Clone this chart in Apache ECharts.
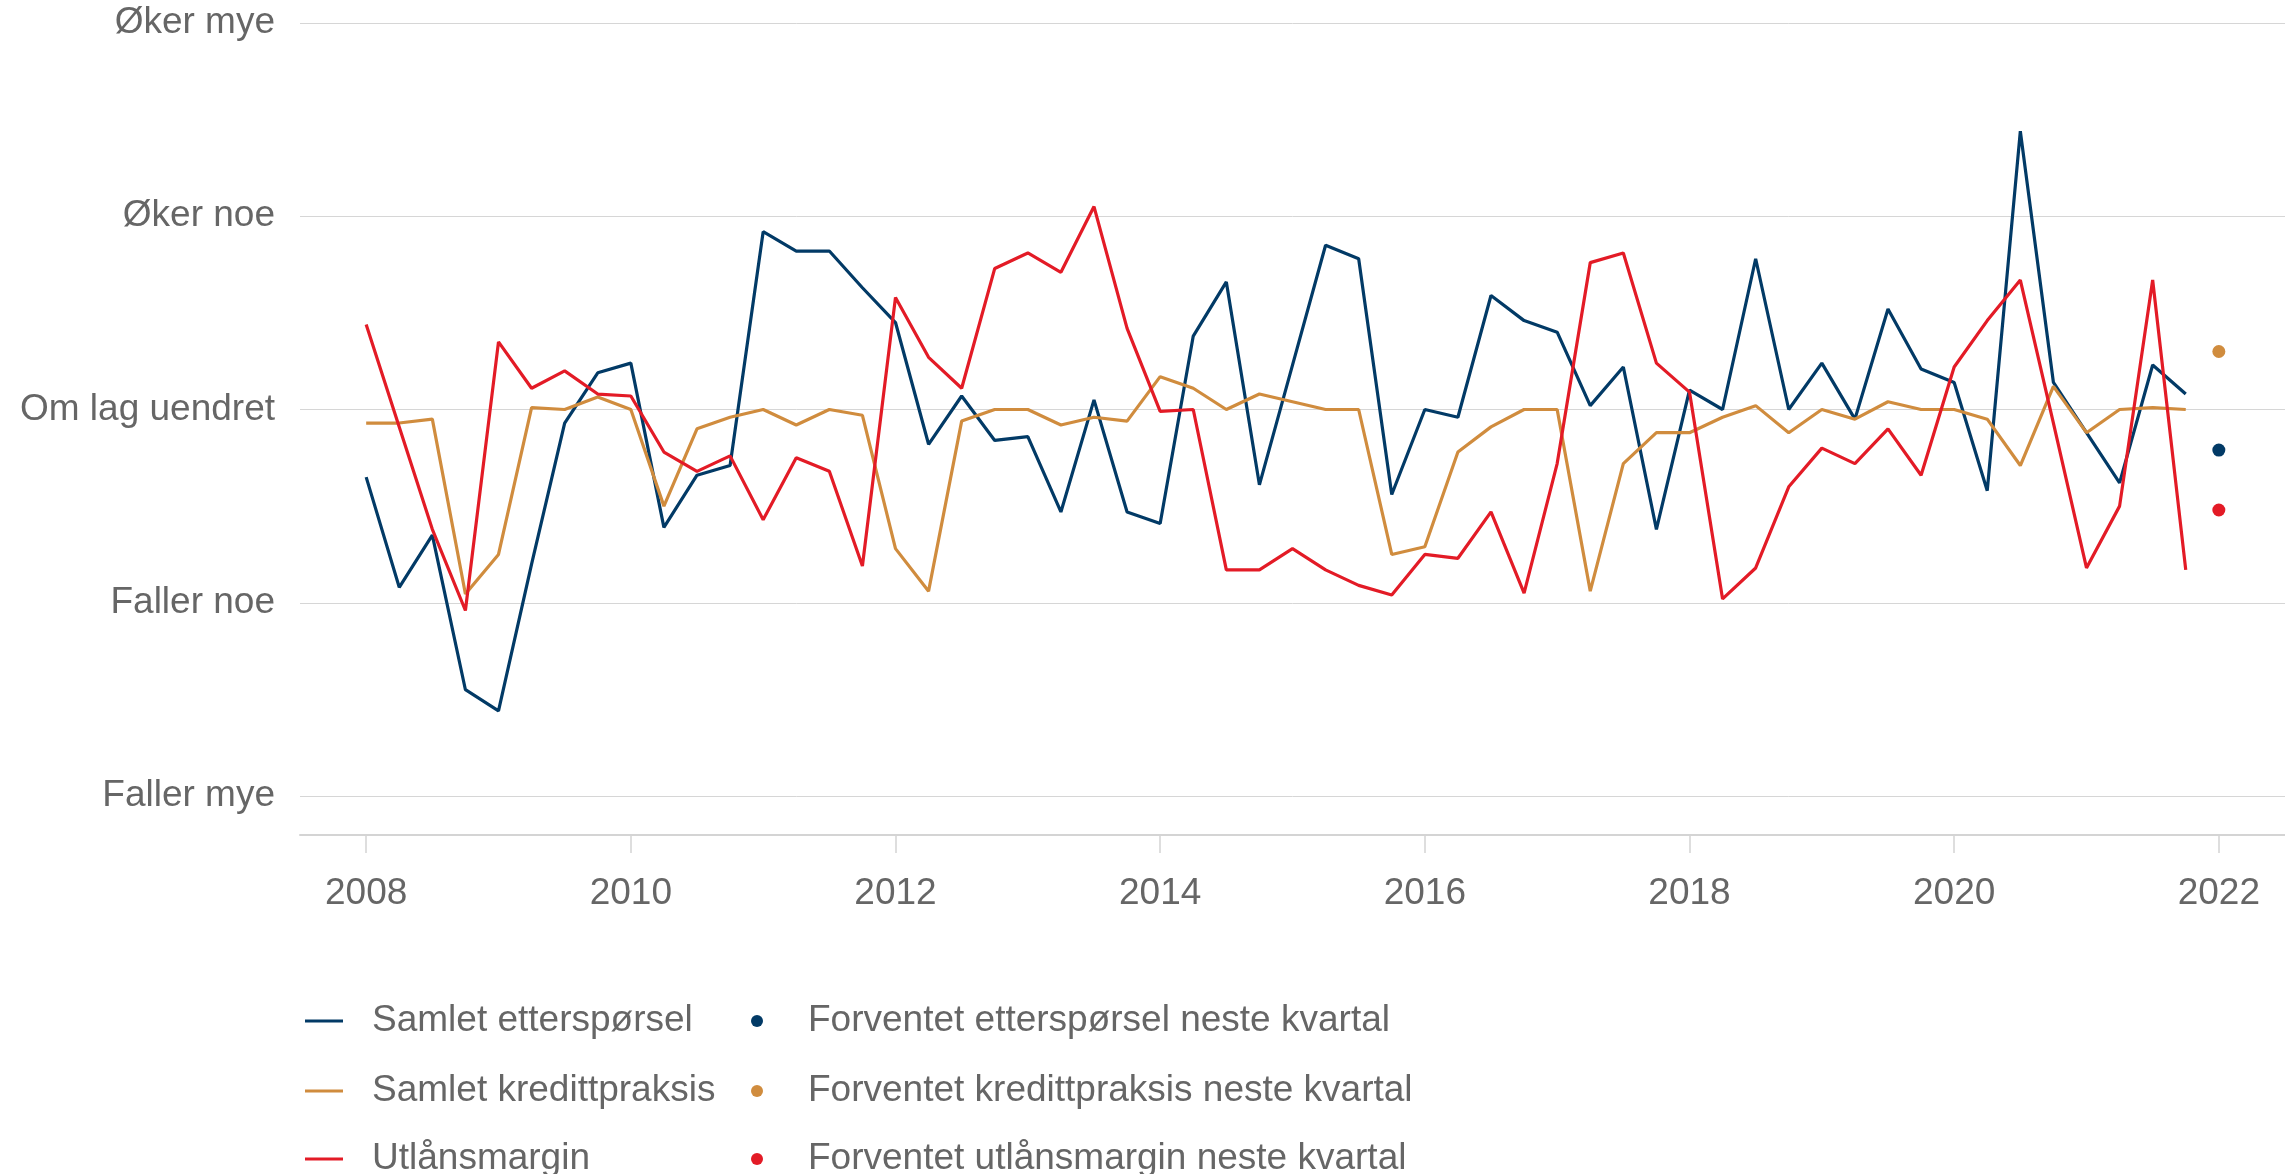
<!DOCTYPE html>
<html>
<head>
<meta charset="utf-8">
<title>Utlånsundersøkelse</title>
<script src="https://cdn.jsdelivr.net/npm/echarts@6/dist/echarts.min.js"></script>
<style>
  html, body { margin: 0; padding: 0; background: #fff; }
  #chart { width: 2285px; height: 1174px; }
</style>
</head>
<body>
<div id="chart"></div>
<script>
// quarterly survey, 2008 K1 - 2021 K4
const firstYear = 2008
const lastYear = 2021
const forecastX = 2022

const yearTicks = [2008, 2010, 2012, 2014, 2016, 2018, 2020, 2022]
const yLabels = { '2': 'Øker mye', '1': 'Øker noe', '0': 'Om lag uendret', '-1': 'Faller noe', '-2': 'Faller mye' }

const lineNames = ['Samlet etterspørsel', 'Samlet kredittpraksis', 'Utlånsmargin']
const dotNames = ['Forventet etterspørsel neste kvartal', 'Forventet kredittpraksis neste kvartal', 'Forventet utlånsmargin neste kvartal']

const etterspoersel = [
  -0.35, -0.92, -0.65, -1.45, -1.56, -0.80, -0.07, 0.19,
  0.24, -0.61, -0.34, -0.29, 0.92, 0.82, 0.82, 0.63,
  0.45, -0.18, 0.07, -0.16, -0.14, -0.53, 0.05, -0.53,
  -0.59, 0.38, 0.66, -0.39, 0.23, 0.85, 0.78, -0.44,
  0.00, -0.04, 0.59, 0.46, 0.40, 0.02, 0.22, -0.62,
  0.10, 0.00, 0.78, 0.00, 0.24, -0.05, 0.52, 0.21,
  0.14, -0.42, 1.44, 0.14, -0.12, -0.38, 0.23, 0.08
]
const kredittpraksis = [
  -0.07, -0.07, -0.05, -0.955, -0.75, 0.01, 0.00, 0.065,
  0.00, -0.50, -0.10, -0.04, 0.00, -0.08, 0.00, -0.03,
  -0.72, -0.94, -0.06, 0.00, 0.00, -0.08, -0.04, -0.06,
  0.17, 0.11, 0.00, 0.08, 0.04, 0.00, 0.00, -0.75,
  -0.71, -0.22, -0.09, 0.00, 0.00, -0.94, -0.28, -0.12,
  -0.12, -0.04, 0.02, -0.12, 0.00, -0.05, 0.04, 0.00,
  0.00, -0.05, -0.29, 0.12, -0.12, 0.00, 0.01, 0.00
]
const utlaansmargin = [
  0.44, -0.09, -0.62, -1.04, 0.35, 0.11, 0.20, 0.08,
  0.07, -0.22, -0.32, -0.24, -0.57, -0.25, -0.32, -0.81,
  0.58, 0.27, 0.11, 0.73, 0.81, 0.71, 1.05, 0.42,
  -0.01, 0.00, -0.83, -0.83, -0.72, -0.83, -0.91, -0.96,
  -0.75, -0.77, -0.53, -0.95, -0.28, 0.76, 0.81, 0.24,
  0.09, -0.98, -0.82, -0.40, -0.20, -0.28, -0.10, -0.34,
  0.22, 0.46, 0.67, -0.07, -0.82, -0.50, 0.67, -0.83
]
// expectations for next quarter, plotted at 2022
const forventet = [-0.21, 0.30, -0.52]

const colors = ['#023a66', '#d08c3e', '#e31b26']
const font = "'Liberation Sans', Arial, sans-serif"

// x positions of the quarters (K1 sits on the year tick)
const quarters = []
for (let y = firstYear; y <= lastYear; y++) {
  for (let q = 0; q < 4; q++) quarters.push(y + q / 4)
}
const pairs = values => values.map((v, i) => [quarters[i], v])

const lineSeries = (name, values, color) => ({
  name,
  type: 'line',
  data: pairs(values),
  showSymbol: false,
  lineStyle: { color, width: 3.2 },
  itemStyle: { color },
  z: 3
})
const dotSeries = (name, value, color) => ({
  name,
  type: 'scatter',
  data: [[forecastX, value]],
  symbolSize: 13,
  itemStyle: { color, opacity: 1 },
  z: 4
})

const legendText = { color: '#666', fontSize: 37, fontFamily: font, lineHeight: 40 }
const rowTops = [996, 1066, 1134]

// one legend per entry so the rows sit exactly where they should
const legends = []
lineNames.forEach((name, i) => {
  legends.push({
    data: [name],
    left: 300,
    top: rowTops[i],
    itemWidth: 38,
    itemHeight: 3,
    icon: 'rect',
    textStyle: { ...legendText, padding: [0, 0, 0, 24] }
  })
})
dotNames.forEach((name, i) => {
  legends.push({
    data: [name],
    left: 746,
    top: rowTops[i],
    itemWidth: 12,
    itemHeight: 12,
    icon: 'circle',
    textStyle: { ...legendText, padding: [0, 0, 0, 40] }
  })
})

const option = {
  animation: false,
  backgroundColor: '#fff',
  textStyle: { fontFamily: font },
  grid: { left: 300, right: 0, top: 23, bottom: 378, containLabel: false },
  xAxis: {
    type: 'value',
    min: 2007.5,
    max: 2022.5,
    offset: 39,
    splitLine: { show: false },
    axisLine: { show: true, onZero: false, lineStyle: { color: '#d4d4d4', width: 2 } },
    axisTick: { show: true, length: 18, lineStyle: { color: '#d4d4d4', width: 1.5 }, customValues: yearTicks },
    axisLabel: { color: '#666', fontSize: 37, fontFamily: font, margin: 40, customValues: yearTicks, formatter: v => String(v) }
  },
  yAxis: {
    type: 'value',
    min: -2,
    max: 2,
    interval: 1,
    axisLine: { show: false },
    axisTick: { show: false },
    splitLine: { show: true, lineStyle: { color: '#d6d6d6', width: 1 } },
    axisLabel: { color: '#666', fontSize: 37, fontFamily: font, margin: 25, formatter: v => yLabels[String(v)] || '' }
  },
  legend: legends,
  series: [
    lineSeries(lineNames[0], etterspoersel, colors[0]),
    lineSeries(lineNames[1], kredittpraksis, colors[1]),
    lineSeries(lineNames[2], utlaansmargin, colors[2]),
    dotSeries(dotNames[0], forventet[0], colors[0]),
    dotSeries(dotNames[1], forventet[1], colors[1]),
    dotSeries(dotNames[2], forventet[2], colors[2])
  ]
}

const chart = echarts.init(document.getElementById('chart'))
chart.setOption(option)
</script>
</body>
</html>
